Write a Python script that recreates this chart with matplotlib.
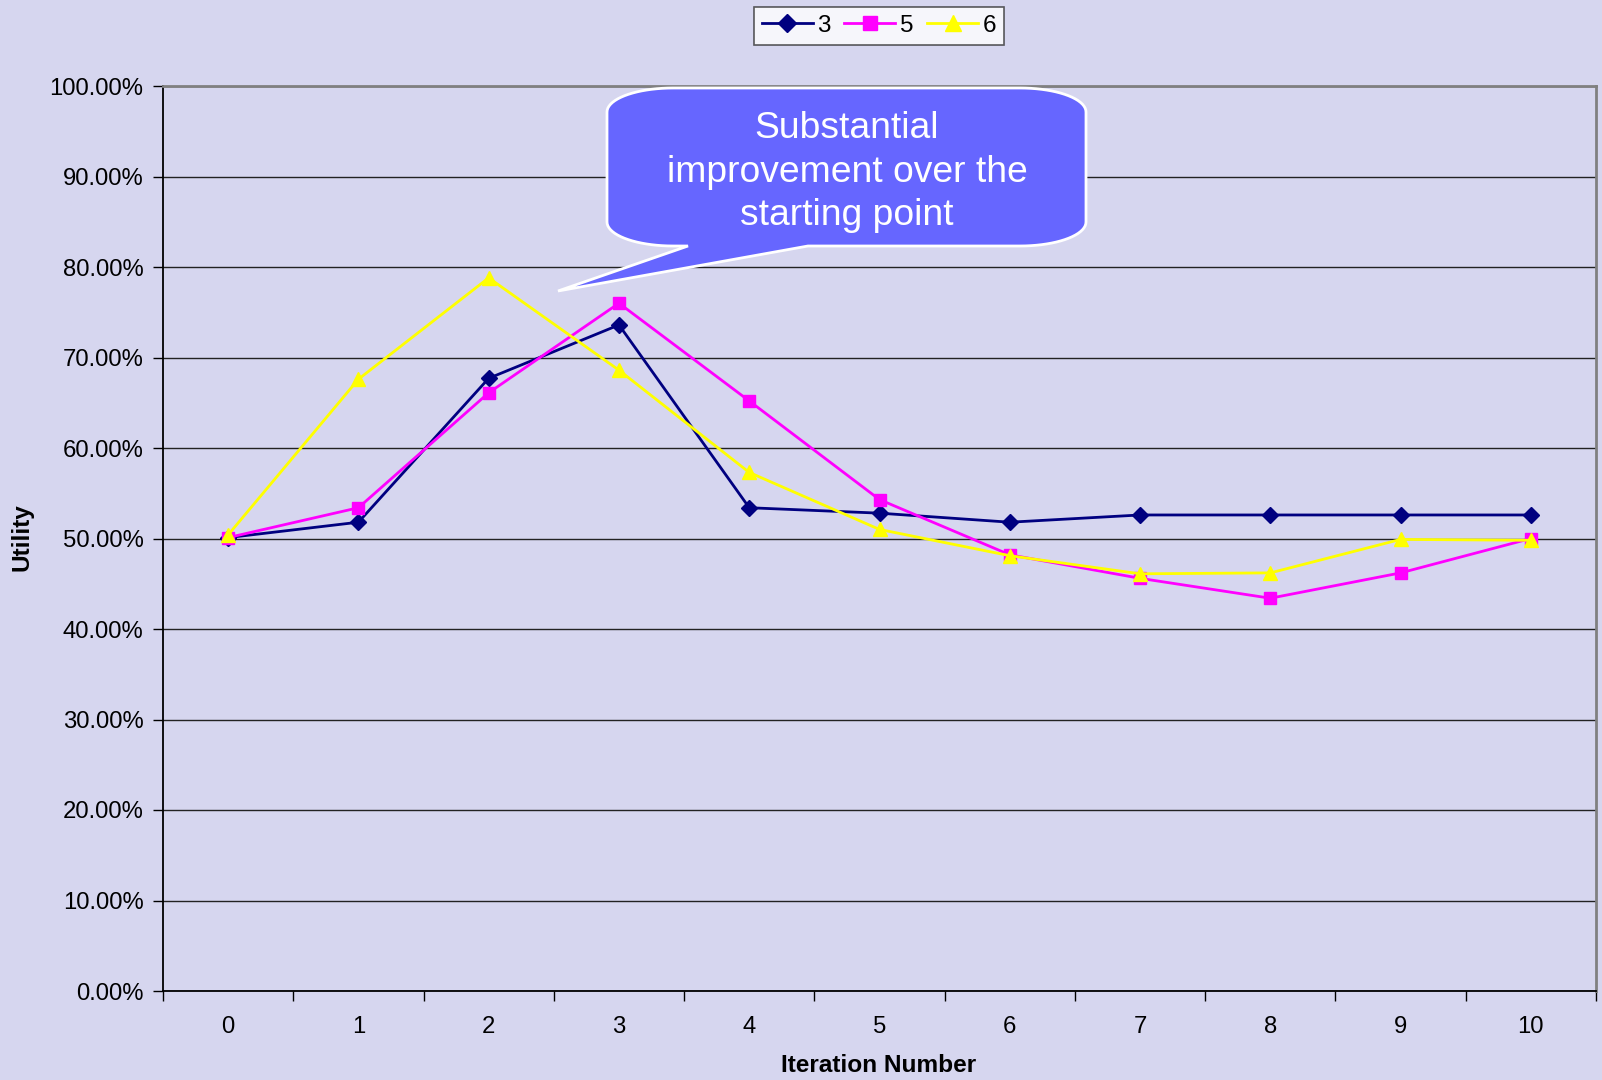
import numpy as np
import matplotlib
matplotlib.use("Agg")
import matplotlib.pyplot as plt
from matplotlib.path import Path
from matplotlib.patches import PathPatch
from matplotlib.ticker import FixedLocator, NullFormatter, FixedFormatter

plt.rcParams['font.family'] = ['Liberation Sans', 'DejaVu Sans']

# utility per iteration, in percent
iterations = list(range(11))
series_3 = [50.1, 51.8, 67.7, 73.6, 53.4, 52.8, 51.8, 52.6, 52.6, 52.6, 52.6]
series_5 = [50.1, 53.4, 66.1, 76.0, 65.2, 54.3, 48.2, 45.6, 43.4, 46.2, 50.0]
series_6 = [50.4, 67.6, 78.8, 68.6, 57.3, 51.0, 48.1, 46.1, 46.2, 49.9, 49.8]
series_names = ["3", "5", "6"]
y_ticks = [0, 10, 20, 30, 40, 50, 60, 70, 80, 90, 100]
callout_text = "Substantial\nimprovement over the\nstarting point"

W, H = 1602, 1080
BG = "#D6D6EF"

fig = plt.figure(figsize=(W / 100, H / 100), dpi=100, facecolor=BG)
ax = fig.add_axes([163 / W, 1 - 991 / H, (1596 - 163) / W, (991 - 86) / H])
ax.set_facecolor(BG)

styles = [
    dict(color="#000080", marker="D", ms=8.5),
    dict(color="#FF00FF", marker="s", ms=9),
    dict(color="#FFFF00", marker="^", ms=10.5),
]
for vals, name, st in zip([series_3, series_5, series_6], series_names, styles):
    ax.plot(iterations, vals, color=st["color"], lw=2, marker=st["marker"],
            ms=st["ms"], mfc=st["color"], mec=st["color"], label=name, zorder=3)

ax.set_xlim(-0.5, 10.5)
ax.set_ylim(0, 100)
ax.set_yticks(y_ticks)
ax.set_yticklabels([f"{v:.2f}%" for v in y_ticks])
ax.yaxis.grid(True, color="#222222", lw=1)
ax.set_axisbelow(True)

# category axis: ticks on the boundaries, labels in the middle
ax.xaxis.set_major_locator(FixedLocator(np.arange(-0.5, 11, 1)))
ax.xaxis.set_major_formatter(NullFormatter())
ax.xaxis.set_minor_locator(FixedLocator(iterations))
ax.xaxis.set_minor_formatter(FixedFormatter([str(i) for i in iterations]))
ax.tick_params(axis="x", which="major", length=7, width=1, color="black", direction="out")
ax.tick_params(axis="x", which="minor", length=0, pad=18, labelsize=17.2)
ax.tick_params(axis="y", length=7, width=1, color="black", pad=7, labelsize=17.2)

for side in ["left", "bottom"]:
    ax.spines[side].set_color("black")
    ax.spines[side].set_linewidth(1.3)
for side in ["top", "right"]:
    ax.spines[side].set_color("#808080")
    ax.spines[side].set_linewidth(2)

fig.text(22 / W, 1 - 537 / H, "Utility", rotation=90, ha="center", va="center",
         fontsize=17.5, fontweight="bold")
fig.text(879 / W, 1 - 1066 / H, "Iteration Number", ha="center", va="center",
         fontsize=17.6, fontweight="bold")

leg = fig.legend(loc="center", bbox_to_anchor=(879 / W, 1 - 26 / H), ncol=3,
                 fontsize=17.5, frameon=True, fancybox=False, handlelength=2.1,
                 handletextpad=0.2, columnspacing=0.55, borderpad=0.32,
                 borderaxespad=0, markerscale=1.05)
leg.get_frame().set_facecolor("white")
leg.get_frame().set_edgecolor("#333333")
leg.get_frame().set_linewidth(1.2)


# speech bubble with elliptical corners and a pointer
def arc(cx, cy, rx, ry, a0, a1, n=20):
    t = np.linspace(np.radians(a0), np.radians(a1), n)
    return list(zip(cx + rx * np.cos(t), cy + ry * np.sin(t)))


x0, x1, y0, y1 = 607, 1086, 88, 246
rx, ry = 66, 24
pts = []
pts += arc(x1 - rx, y0 + ry, rx, ry, -90, 0)
pts += arc(x1 - rx, y1 - ry, rx, ry, 0, 90)
pts += [(808, y1), (558, 291), (688, y1)]
pts += arc(x0 + rx, y1 - ry, rx, ry, 90, 180)
pts += arc(x0 + rx, y0 + ry, rx, ry, 180, 270)
pts.append(pts[0])
verts = [(px / W, 1 - py / H) for px, py in pts]
bubble = PathPatch(Path(verts, closed=True), facecolor="#6666FF", edgecolor="white",
                   lw=2, transform=fig.transFigure, zorder=10)
fig.patches.append(bubble)
fig.text(847 / W, 1 - 172 / H, callout_text, ha="center", va="center", color="white",
         fontsize=26.8, linespacing=1.32, zorder=11)

fig.savefig("out.png", dpi=100, facecolor=BG)
